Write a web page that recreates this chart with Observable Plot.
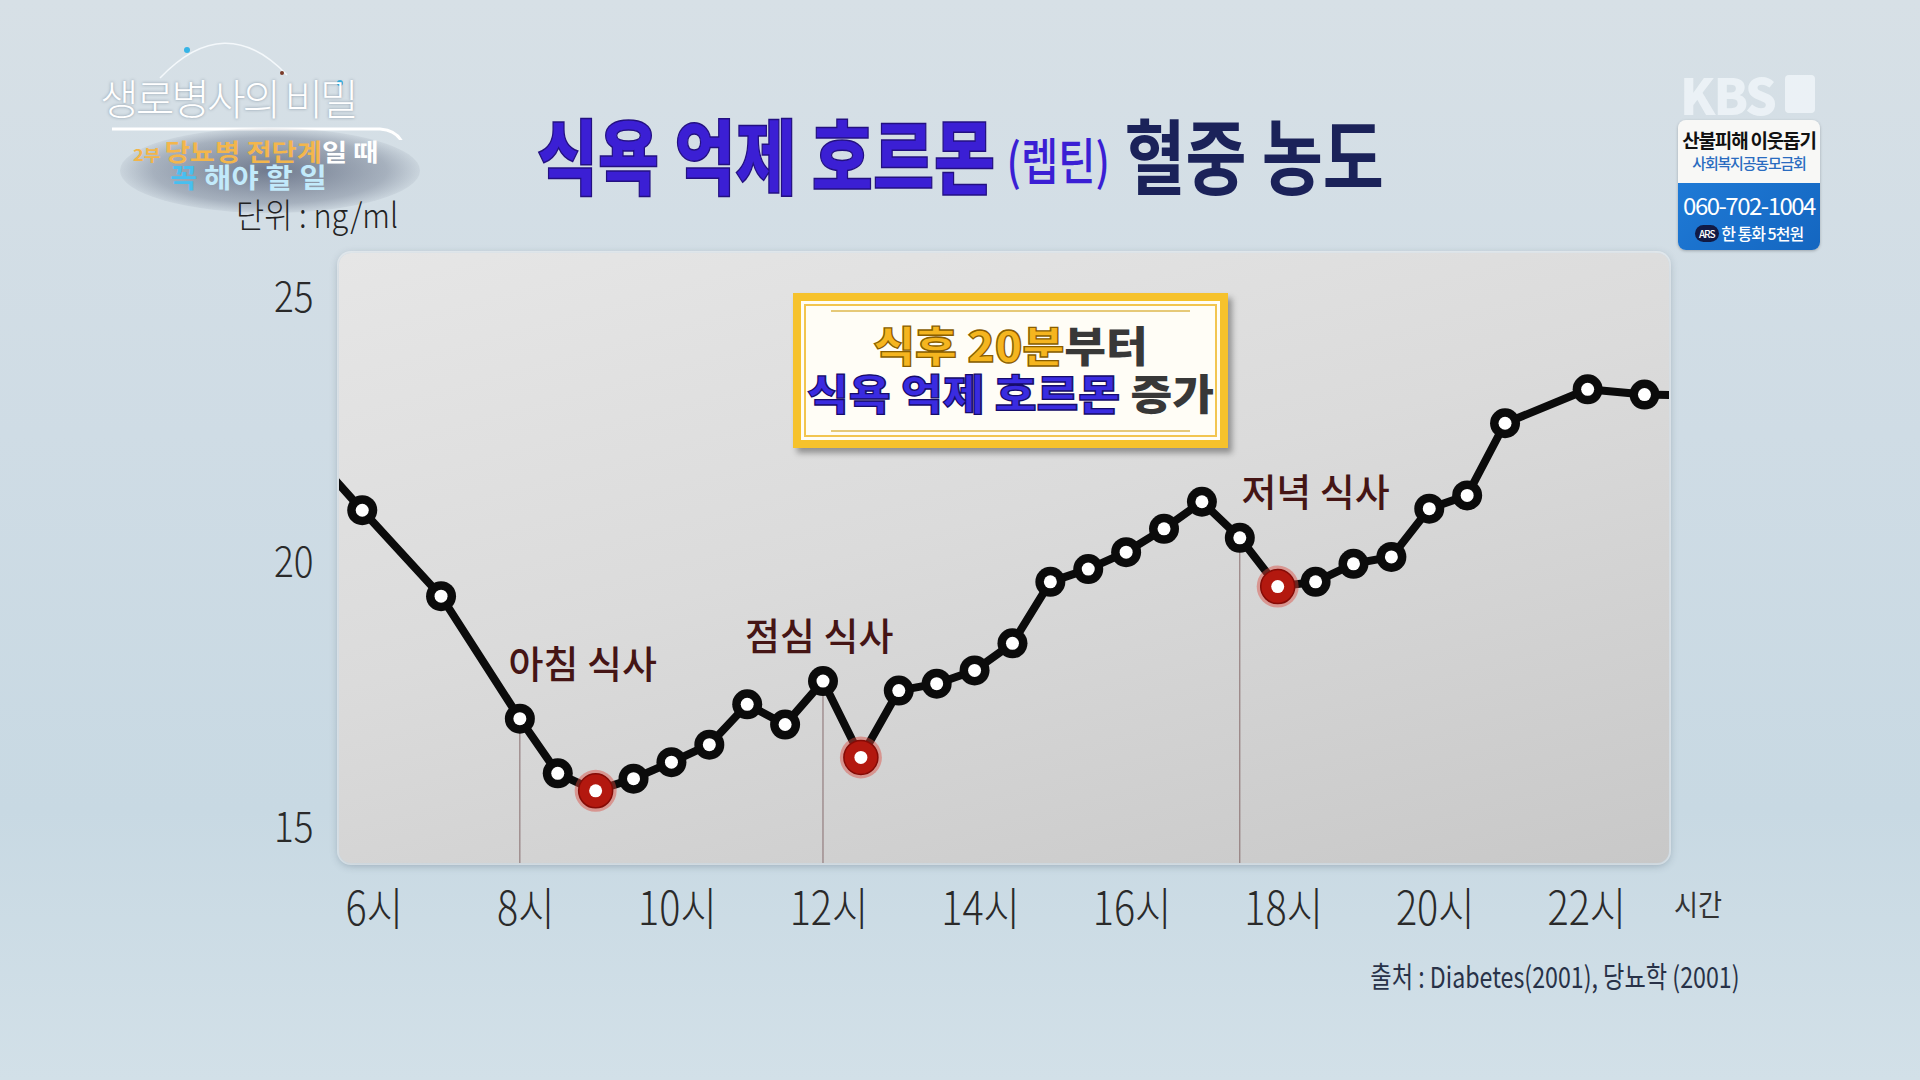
<!DOCTYPE html>
<html><head><meta charset="utf-8">
<script src="https://cdn.jsdelivr.net/npm/d3@7"></script>
<script src="https://cdn.jsdelivr.net/npm/@observablehq/plot@0.6"></script>
<style>
html,body{margin:0;padding:0;}
body{width:1920px;height:1080px;position:relative;overflow:hidden;
 background:linear-gradient(180deg,#d7e0e6 0%,#cfdce5 40%,#c8d9e3 75%,#d2e0e8 100%);
 font-family:"Noto Sans CJK KR","Noto Sans",sans-serif;}
.abs{position:absolute;}
#panel{left:339px;top:253px;width:1330px;height:610px;border-radius:12px;
 background:linear-gradient(165deg,#e6e6e6 0%,#dbdbdb 45%,#c8c8c8 100%);
 box-shadow:0 0 0 2px rgba(255,255,255,0.45),0 2px 8px rgba(40,60,80,0.35);}
#chart{left:0;top:0;}
#title{left:537px;top:112px;white-space:nowrap;transform:scaleX(0.81);transform-origin:left top;line-height:1;}
#title .a{font-size:82px;font-weight:900;color:#3b1fd4;-webkit-text-stroke:1.5px #231080;}
#title .b{font-size:50px;font-weight:500;color:#3b1fd4;margin:0 18px 0 14px;vertical-align:8px;}
#title .c{font-size:82px;font-weight:700;color:#1b2259;}
#callout{left:793px;top:293px;width:435px;height:155px;box-sizing:border-box;background:#fffdf6;
 border:8px solid #f6c22c;box-shadow:4px 5px 6px rgba(0,0,0,0.35);}
#callout .in{position:absolute;left:3px;top:3px;right:3px;bottom:3px;border:2px solid #f2c550;}
#callout .hl{position:absolute;left:30px;right:30px;height:2px;background:#e6c978;}
#callout .t{position:absolute;left:0;right:0;text-align:center;font-weight:900;font-size:42px;line-height:1;white-space:nowrap;transform:scaleX(1.08);}
.ye{color:#f5b51f;-webkit-text-stroke:1.3px #8a5e00;}
.bl{color:#3a2be0;-webkit-text-stroke:1.3px #160c6a;}
.gr{color:#383838;}
#unit{left:236px;top:197px;font-size:34px;font-weight:300;color:#222;transform:scaleX(0.9);transform-origin:left top;white-space:nowrap;line-height:1;}
#xname{left:1674px;top:889px;font-size:29px;font-weight:400;color:#333;line-height:1;transform:scaleX(0.9);transform-origin:left top;}
#source{right:180px;top:961px;font-size:29px;font-weight:400;color:#283248;line-height:1;white-space:nowrap;transform:scaleX(0.8);transform-origin:right top;}
#logo{left:100px;top:76px;font-size:42px;font-weight:300;color:#fff;letter-spacing:-3px;line-height:1;text-shadow:0 0 3px rgba(60,80,100,0.5);white-space:nowrap;}
#blob{left:120px;top:128px;width:300px;height:85px;border-radius:50%;background:radial-gradient(ellipse at center,rgba(30,40,70,0.55) 0%,rgba(30,40,70,0.25) 55%,rgba(30,40,70,0) 75%);}
#sub1{left:133px;top:139px;font-size:24px;font-weight:700;line-height:1;white-space:nowrap;transform:scaleX(1.14);transform-origin:left top;}
#sub2{left:170px;top:163px;font-size:27px;font-weight:700;line-height:1;white-space:nowrap;transform:scaleX(1.1);transform-origin:left top;}
#kbs{left:1680px;top:68px;font-size:50px;font-weight:900;color:rgba(238,244,248,0.85);line-height:1;letter-spacing:-2px;white-space:nowrap;}
#kbs .one{display:inline-block;width:30px;height:38px;margin-left:10px;background:rgba(238,244,248,0.85);border-radius:4px;vertical-align:2px;}
#donate{left:1678px;top:120px;width:142px;height:130px;border-radius:8px;overflow:hidden;box-shadow:0 1px 3px rgba(0,0,0,0.25);}
#donate .top{height:63px;background:#f8f8f6;text-align:center;}
#donate .bot{height:67px;background:linear-gradient(135deg,#1f7ad6,#1466c0);text-align:center;color:#fff;}
#donate .ln{white-space:nowrap;line-height:1;}
</style></head>
<body>
<div id="panel" class="abs"></div>
<svg class="abs" style="left:0;top:0" width="460" height="140">
 <path d="M160,78 Q225,10 287,75" fill="none" stroke="#f4f8fb" stroke-width="1.5"/>
 <circle cx="187" cy="50" r="3" fill="#36b4e6"/><circle cx="282" cy="73" r="2" fill="#7a3b2a"/><circle cx="340" cy="83" r="3" fill="#36b4e6"/>
 <path d="M112,129 L380,129 Q402,131 404,150" fill="none" stroke="#ffffff" stroke-width="3"/>
</svg>
<div id="blob" class="abs"></div>
<div id="logo" class="abs">생로병사의 비밀</div>
<div id="sub1" class="abs"><span style="font-size:16px;color:#f2b54a">2부 </span><span style="color:#f3b64c">당뇨병 전단계</span><span style="color:#fff">일 때</span></div>
<div id="sub2" class="abs"><span style="color:#47bff0">꼭</span> <span style="color:#c2eafb">해야 할 일</span></div>
<div id="unit" class="abs">단위 : ng/ml</div>
<div id="title" class="abs"><span class="a">식욕 억제 호르몬</span><span class="b">(렙틴)</span><span class="c">혈중 농도</span></div>
<div id="kbs" class="abs">KBS<span class="one"></span></div>
<div id="donate" class="abs">
 <div class="top"><div class="ln" style="font-size:19px;font-weight:700;color:#111;padding-top:10px;letter-spacing:-1.2px">산불피해 이웃돕기</div>
 <div class="ln" style="font-size:15px;font-weight:500;color:#2a6cc0;margin-top:6px;letter-spacing:-1.2px">사회복지공동모금회</div></div>
 <div class="bot"><div class="ln" style="font-size:24px;font-weight:400;padding-top:10px;letter-spacing:-1.5px">060-702-1004</div>
 <div class="ln" style="font-size:16px;font-weight:500;margin-top:8px;letter-spacing:-1px"><span style="background:#111a44;border-radius:9px;font-size:10px;padding:1px 4px;vertical-align:2px">ARS</span> 한 통화 5천원</div></div>
</div>
<div id="chart" class="abs"></div>
<div id="callout" class="abs"><div class="in"></div>
 <div class="hl" style="top:9px"></div><div class="hl" style="top:129px"></div>
 <div class="t" style="top:22px"><span class="ye">식후 20분</span><span class="gr">부터</span></div>
 <div class="t" style="top:70px"><span class="bl">식욕 억제 호르몬</span> <span class="gr">증가</span></div>
</div>
<div id="xname" class="abs">시간</div>
<div id="source" class="abs">출처 : Diabetes(2001), 당뇨학 (2001)</div>
<script>
// hours of day (measured points)
const hours = [5.92, 6.96, 8, 8.5, 9, 9.5, 10, 10.5, 11, 11.5, 12, 12.5, 13, 13.5, 14, 14.5, 15, 15.5, 16, 16.5, 17, 17.5, 18, 18.5, 19, 19.5, 20, 20.5, 21, 22.09, 22.84];
// leptin ng/ml
const leptin = [21.0, 19.38, 17.07, 16.04, 15.71, 15.94, 16.25, 16.58, 17.34, 16.96, 17.78, 16.34, 17.60, 17.73, 17.98, 18.49, 19.65, 19.89, 20.21, 20.65, 21.16, 20.48, 19.56, 19.65, 19.99, 20.12, 21.03, 21.28, 22.64, 23.28, 23.18];
// line continues past the panel edges
const edgeHours = [5.5, 23.3];
const edgeLeptin = [21.67, 23.17];
// highlighted (post-meal) points
const afterMealHours = [9, 12.5, 18];
// meals
const mealHours = [8, 12, 17.5];
const mealNames = ["아침 식사", "점심 식사", "저녁 식사"];
const mealLabelHours = [8.83, 11.95, 18.5];
const mealLabelLeptin = [18.07, 18.6, 21.31];
// axes
const xTicks = [6, 8, 10, 12, 14, 16, 18, 20, 22];
const yTicks = [15, 20, 25];
const xDomain = [5.62, 23.17];
const yDomain = [14.34, 25.84];

const points = hours.map((h, i) => ({hour: h, leptin: leptin[i], afterMeal: afterMealHours.includes(h)}));
const lineData = [{hour: edgeHours[0], leptin: edgeLeptin[0]}, ...points, {hour: edgeHours[1], leptin: edgeLeptin[1]}];
const meals = mealHours.map((h, i) => ({
  hour: h, name: mealNames[i],
  leptin: points.find(p => p.hour === h).leptin,
  labelHour: mealLabelHours[i], labelLeptin: mealLabelLeptin[i]
}));

const plot = Plot.plot({
  width: 1920, height: 1080,
  marginLeft: 339, marginRight: 251, marginTop: 253, marginBottom: 217,
  x: {domain: xDomain},
  y: {domain: yDomain},
  style: {background: "transparent", overflow: "visible", fontFamily: "'Noto Sans CJK KR','Noto Sans',sans-serif", fontSize: "44px", color: "#2a2a2a"},
  marks: [
    Plot.ruleX(meals, {x: "hour", y1: yDomain[0], y2: "leptin", stroke: "#7a5a5c", strokeWidth: 1, strokeOpacity: 0.85}),
    Plot.line(lineData, {x: "hour", y: "leptin", stroke: "#0b0b0b", strokeWidth: 8, strokeLinejoin: "round", clip: true}),
    Plot.dot(points.filter(p => !p.afterMeal), {x: "hour", y: "leptin", r: 15, fill: "#0b0b0b"}),
    Plot.dot(points.filter(p => p.afterMeal), {x: "hour", y: "leptin", r: 21, fill: "#dc4a3d", fillOpacity: 0.45}),
    Plot.dot(points.filter(p => p.afterMeal), {x: "hour", y: "leptin", r: 17, fill: "#b3180f", stroke: "#850b06", strokeWidth: 1.5}),
    Plot.dot(points, {x: "hour", y: "leptin", r: 6.5, fill: "#ffffff"}),
    Plot.text(meals, {x: "labelHour", y: "labelLeptin", text: "name", fontSize: 38, fontWeight: 500, fill: "#451515"}),
    Plot.axisX(xTicks, {tickFormat: d => `${d}시`, tickSize: 0, tickPadding: 29, dx: 6, label: null, fontSize: 46, fontWeight: 300}),
    Plot.axisY(yTicks, {tickFormat: d => `${d}`, tickSize: 0, tickPadding: 26, label: null, fontSize: 42, fontWeight: 300})
  ]
});
document.getElementById("chart").appendChild(plot);

function condense(sel, sx) {
  plot.querySelectorAll(sel).forEach(t => {
    const tr = t.getAttribute("transform") || "";
    t.setAttribute("transform", tr + ` scale(${sx},1)`);
  });
}
condense('g[aria-label="x-axis tick label"] text', 0.86);
condense('g[aria-label="y-axis tick label"] text', 0.88);
</script>
</body></html>
